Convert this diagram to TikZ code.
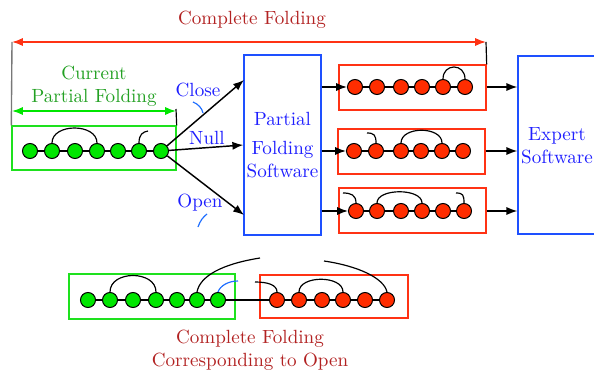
\documentclass[tikz,border=0pt]{standalone}
\usetikzlibrary{arrows.meta,calc}
\definecolor{dred}{RGB}{178,34,34}
\definecolor{gtext}{RGB}{34,160,34}
\definecolor{gfill}{RGB}{0,230,0}
\definecolor{gline}{RGB}{30,225,30}
\definecolor{rfill}{RGB}{255,45,0}
\definecolor{rline}{RGB}{255,50,20}
\definecolor{bline}{RGB}{30,80,255}
\definecolor{btext}{RGB}{30,30,255}
\definecolor{barc}{RGB}{30,110,255}
\definecolor{gry}{RGB}{120,120,120}
\begin{document}
\begin{tikzpicture}[x=0.55pt,y=-0.55pt,
  every node/.style={font=\fontsize{10.5pt}{12.6pt}\selectfont},
  gc/.style={circle,draw=black,fill=gfill,minimum size=8.25pt,inner sep=0pt,line width=0.55pt},
  rc/.style={circle,draw=black,fill=rfill,minimum size=8.25pt,inner sep=0pt,line width=0.55pt},
  box/.style={draw,rectangle,inner sep=0pt,line width=0.75pt},
  tip/.tip={Latex[length=6pt,width=4.5pt]},
  arr/.style={-tip,line width=0.8pt},
  chainln/.style={line width=0.65pt},
  bond/.style={line width=0.65pt}]
\useasboundingbox (0,0) rectangle (594,370);
% boxes
\node[box,draw=gline,minimum width=164*0.55pt,minimum height=44*0.55pt] (gb) at (94,148) {};
\node[box,draw=rline,minimum width=147*0.55pt,minimum height=45*0.55pt] (rb1) at (412.5,87.5) {};
\node[box,draw=rline,minimum width=147*0.55pt,minimum height=45*0.55pt] (rb2) at (411.5,151.5) {};
\node[box,draw=rline,minimum width=147*0.55pt,minimum height=45*0.55pt] (rb3) at (412.5,210.5) {};
\node[box,draw=bline,minimum width=77*0.55pt,minimum height=180*0.55pt,text=btext,align=center] (pfs) at (282.5,145) {Partial\\[3pt]Folding\\Software};
\node[box,draw=bline,minimum width=92*0.55pt,minimum height=178*0.55pt] (exp) at (564,145) {};
\node[text=btext,align=center] (expt) at (557,146) {Expert\\Software};
\node[box,draw=gline,minimum width=166*0.55pt,minimum height=45*0.55pt] (gb2) at (152,296.5) {};
\node[box,draw=rline,minimum width=148*0.55pt,minimum height=43*0.55pt] (rb4) at (334,296.5) {};
% circles
\foreach \i/\x in {1/30,2/52,3/75,4/97,5/118,6/139,7/161} \node[gc] (g\i) at (\x,151) {};
\foreach \i/\x in {1/355,2/377,3/401,4/422,5/443,6/465} \node[rc] (a\i) at (\x,87) {};
\foreach \i/\x in {1/354,2/376,3/401,4/421,5/442,6/463} \node[rc] (b\i) at (\x,151) {};
\foreach \i/\x in {1/356,2/377,3/401,4/422,5/443,6/464} \node[rc] (c\i) at (\x,211) {};
\foreach \i/\x in {1/88,2/110,3/133,4/156,5/177,6/197,7/218} \node[gc] (h\i) at (\x,300) {};
\foreach \i/\x in {1/277,2/299,3/322,4/343,5/365,6/387} \node[rc] (k\i) at (\x,300) {};
% chains
\foreach \i [evaluate=\i as \j using int(\i+1)] in {1,...,6} {
  \draw[chainln] (g\i) -- (g\j);
  \draw[chainln] (h\i) -- (h\j);
}
\foreach \i [evaluate=\i as \j using int(\i+1)] in {1,...,5} {
  \draw[chainln] (a\i) -- (a\j);
  \draw[chainln] (b\i) -- (b\j);
  \draw[chainln] (c\i) -- (c\j);
  \draw[chainln] (k\i) -- (k\j);
}
\draw[chainln] (h7) -- (k1);
% bonds
\draw[bond] (g2.north) .. controls +(0,-20) and +(0,-20) .. (g4.north);
\coordinate (hg6) at (148,131);
\draw[bond] (g6.north) .. controls +(0,-9) and +(-5,1) .. (hg6);
\draw[bond] (a5.north) .. controls +(0,-16) and +(0,-16) .. (a6.north);
\coordinate (hb2) at (367,133);
\draw[bond] (hb2) .. controls +(7,0) and +(0,-8) .. (b2.north);
\draw[bond] (b3.north) .. controls +(0,-17) and +(0,-17) .. (b5.north);
\coordinate (hc1) at (343,193);
\draw[bond] (hc1) .. controls +(8,0) and +(0,-8) .. (c1.north);
\draw[bond] (c2.north) .. controls +(0,-15) and +(0,-15) .. (c4.north);
\coordinate (hc6) at (456,193);
\draw[bond] (hc6) .. controls +(7,0) and +(0,-8) .. (c6.north);
\draw[bond] (h2.north) .. controls +(0,-22) and +(0,-22) .. (h4.north);
\coordinate (lh) at (260,258);
\draw[bond] (h6.north) .. controls (200,276) and (222,264) .. (lh);
\coordinate (bh) at (238,281);
\draw[bond,barc] (h7.north) .. controls (220,286) and (228,281) .. (bh);
\coordinate (hk1) at (255,282);
\draw[bond] (hk1) .. controls (268,282) and (277,285) .. (k1.north);
\draw[bond] (k2.north) .. controls +(0,-17) and +(0,-17) .. (k4.north);
\coordinate (lk) at (324,261);
\draw[bond] (lk) .. controls (358,266) and (384,278) .. (k6.north);
% arrows into PFS
\coordinate (pin1) at (244,80);
\coordinate (pin3) at (244,215);
\draw[arr] (g7) -- (pin1);
\draw[arr] (g7) -- (pfs.west);
\draw[arr] (g7) -- (pin3);
\node[text=btext] (lclose) at (198,90) {Close};
\node[text=btext] (lnull) at (207,138) {Null};
\node[text=btext] (lopen) at (200,203) {Open};
\draw[barc,line width=0.65pt] (193,102) .. controls (198,104) and (202,108) .. (203,113);
\draw[barc,line width=0.65pt] (198,227) .. controls (200,221) and (203,217) .. (207,214);
% PFS to rows
\draw[arr] (pfs.east |- a1) -- (a1);
\draw[arr] (pfs.east |- b1) -- (b1);
\draw[arr] (pfs.east |- c1) -- (c1);
\draw[arr] (rb1.east |- a1) -- (exp.west |- a1);
\draw[arr] (rb2.east |- b1) -- (exp.west |- b1);
\draw[arr] (rb3.east |- c1) -- (exp.west |- c1);
% top dimension lines
\coordinate (tl) at (12,42);
\coordinate (tr) at (486,42);
\draw[tip-tip,rline,line width=0.8pt] (tl) -- (tr);
\draw[gry,line width=0.75pt] (tl) -- (gb.north west);
\draw[line width=0.65pt] (tr) -- (rb1.north east);
\node[text=dred] (tcf) at (252,20) {Complete Folding};
\coordinate (gl) at (12,111);
\coordinate (gr) at (176,111);
\draw[tip-tip,gfill,line width=0.8pt] (gl) -- (gr);
\coordinate (gtk) at (176,109);
\draw[line width=0.65pt] (gtk) -- (gb.north east);
\node[text=gtext,align=center] (tcp) at (94,86) {Current\\Partial Folding};
\node[text=dred,align=center] (tco) at (250,350) {Complete Folding\\Corresponding to Open};
\end{tikzpicture}
\end{document}
